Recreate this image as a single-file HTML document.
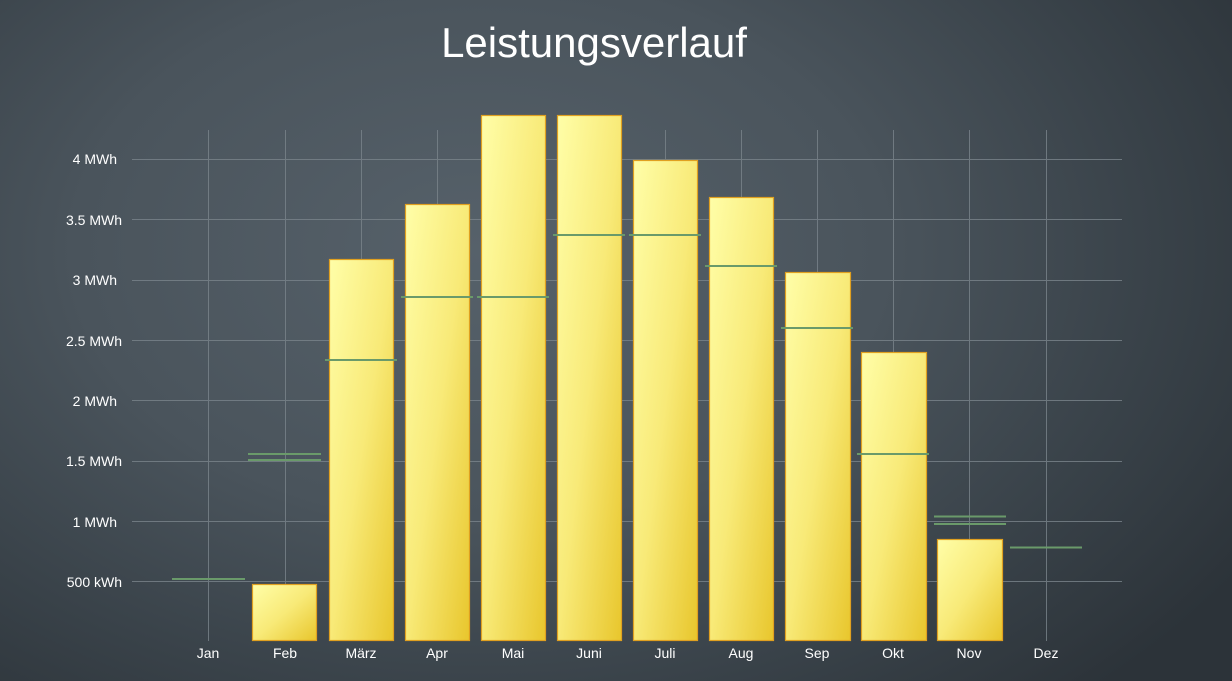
<!DOCTYPE html>
<html><head><meta charset="utf-8"><style>
html,body{margin:0;padding:0}
body{width:1232px;height:681px;overflow:hidden;background:radial-gradient(ellipse 900px 600px at 480px 250px,#56616a 0%,#4a545c 45%,#394249 75%,#2c3339 100%);font-family:"Liberation Sans",sans-serif}
</style></head><body>
<svg width="1232" height="681" style="position:absolute;left:0;top:0">
<defs>
<linearGradient id="g" x1="0" y1="0" x2="1" y2="1">
<stop offset="0" stop-color="#fffea8"/><stop offset="0.5" stop-color="#f8ea78"/><stop offset="1" stop-color="#e8c62c"/>
</linearGradient>
</defs>
<text x="594" y="57" text-anchor="middle" fill="#fff" font-size="42" font-family="Liberation Sans, sans-serif" font-weight="300">Leistungsverlauf</text>
<g stroke="#7a848b" stroke-width="1" opacity="0.8">
<line x1="132" x2="1122" y1="159.5" y2="159.5"/>
<line x1="132" x2="1122" y1="219.5" y2="219.5"/>
<line x1="132" x2="1122" y1="280.5" y2="280.5"/>
<line x1="132" x2="1122" y1="340.5" y2="340.5"/>
<line x1="132" x2="1122" y1="400.5" y2="400.5"/>
<line x1="132" x2="1122" y1="461.5" y2="461.5"/>
<line x1="132" x2="1122" y1="521.5" y2="521.5"/>
<line x1="132" x2="1122" y1="581.5" y2="581.5"/>
<line y1="130" y2="641" x1="208.5" x2="208.5"/>
<line y1="130" y2="641" x1="285.5" x2="285.5"/>
<line y1="130" y2="641" x1="361.5" x2="361.5"/>
<line y1="130" y2="641" x1="437.5" x2="437.5"/>
<line y1="130" y2="641" x1="513.5" x2="513.5"/>
<line y1="130" y2="641" x1="589.5" x2="589.5"/>
<line y1="130" y2="641" x1="665.5" x2="665.5"/>
<line y1="130" y2="641" x1="741.5" x2="741.5"/>
<line y1="130" y2="641" x1="817.5" x2="817.5"/>
<line y1="130" y2="641" x1="893.5" x2="893.5"/>
<line y1="130" y2="641" x1="969.5" x2="969.5"/>
<line y1="130" y2="641" x1="1046.5" x2="1046.5"/>
</g>
<g fill="#fff" font-size="14" text-anchor="end">
<text x="117" y="164">4 MWh</text>
<text x="122" y="225">3.5 MWh</text>
<text x="117" y="285">3 MWh</text>
<text x="122" y="346">2.5 MWh</text>
<text x="117" y="406">2 MWh</text>
<text x="122" y="466">1.5 MWh</text>
<text x="117" y="527">1 MWh</text>
<text x="122" y="587">500 kWh</text>
</g>
<g fill="#fff" font-size="14" text-anchor="middle">
<text x="208" y="658">Jan</text><text x="285" y="658">Feb</text><text x="361" y="658">März</text><text x="437" y="658">Apr</text><text x="513" y="658">Mai</text><text x="589" y="658">Juni</text><text x="665" y="658">Juli</text><text x="741" y="658">Aug</text><text x="817" y="658">Sep</text><text x="893" y="658">Okt</text><text x="969" y="658">Nov</text><text x="1046" y="658">Dez</text>
</g>
<g fill="url(#g)" stroke="#e0a020" stroke-width="1.2">
<rect x="252.5" y="584.5" width="64" height="56"/>
<rect x="329.5" y="259.5" width="64" height="381"/>
<rect x="405.5" y="204.5" width="64" height="436"/>
<rect x="481.5" y="115.5" width="64" height="525"/>
<rect x="557.5" y="115.5" width="64" height="525"/>
<rect x="633.5" y="160.5" width="64" height="480"/>
<rect x="709.5" y="197.5" width="64" height="443"/>
<rect x="785.5" y="272.5" width="65" height="368"/>
<rect x="861.5" y="352.5" width="65" height="288"/>
<rect x="937.5" y="539.5" width="65" height="101"/>
</g>
<g stroke="#6a9a6a" stroke-width="2">
<line x1="172" x2="245" y1="579" y2="579"/>
<line x1="248" x2="321" y1="454" y2="454"/>
<line x1="248" x2="321" y1="460" y2="460"/>
<line x1="325" x2="397" y1="360" y2="360"/>
<line x1="401" x2="473" y1="297" y2="297"/>
<line x1="477" x2="549" y1="297" y2="297"/>
<line x1="553" x2="625" y1="235" y2="235"/>
<line x1="629" x2="701" y1="235" y2="235"/>
<line x1="705" x2="777" y1="266" y2="266"/>
<line x1="781" x2="853" y1="328" y2="328"/>
<line x1="857" x2="929" y1="454" y2="454"/>
<line x1="934" x2="1006" y1="516.5" y2="516.5"/>
<line x1="934" x2="1006" y1="524" y2="524"/>
<line x1="1010" x2="1082" y1="547.5" y2="547.5"/>
</g>
</svg>
</body></html>
